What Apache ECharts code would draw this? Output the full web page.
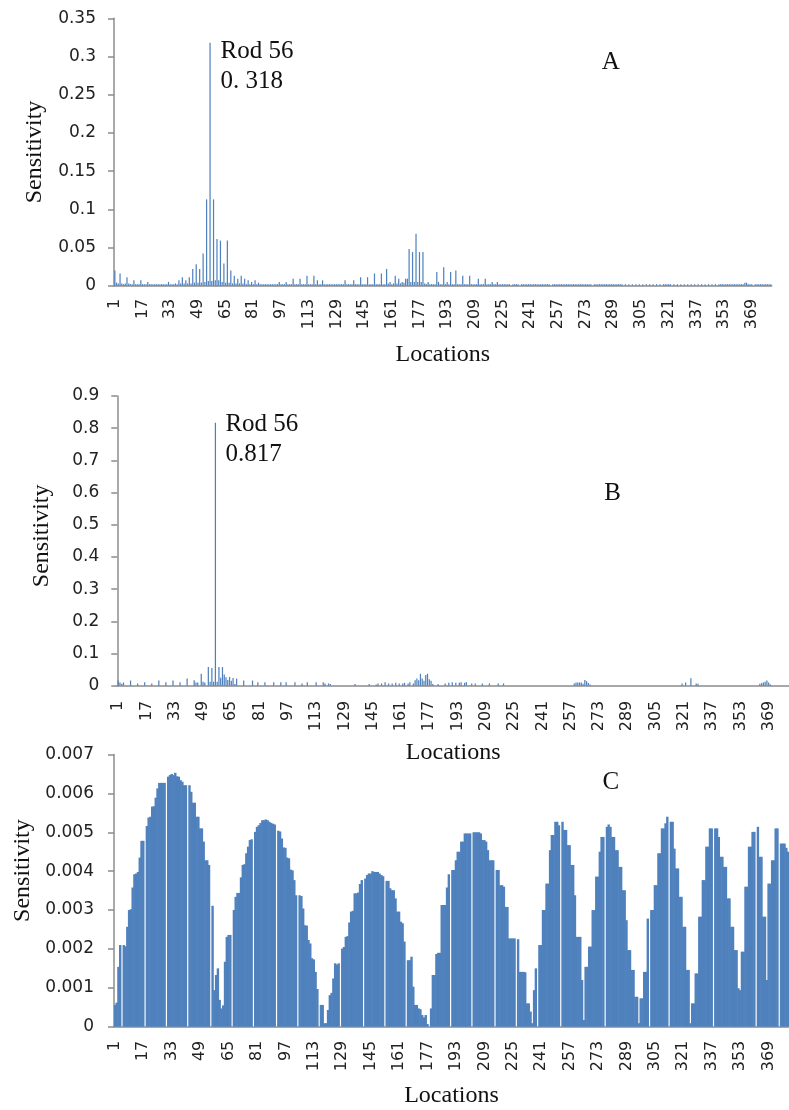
<!DOCTYPE html>
<html><head><meta charset="utf-8">
<script src="https://cdn.jsdelivr.net/npm/echarts@6/dist/echarts.min.js"></script>
<style>html,body{margin:0;padding:0;background:#fff;overflow:hidden}#chart{width:789px;height:1110px}</style>
</head><body><div id="chart"></div>
<script>
// ---- categories (fuel rod locations) ----
const locations = Array.from({length: 380}, (_, i) => String(i + 1));

// ---- Panel A sensitivities ----
const sensA = [
0.020,0.004,0.003,0.016,0.003,0.002,0.003,0.011,0.003,0.002,0.002,0.007,0.002,0.002,0.002,0.007,0.002,0.002,0.002,0.005,
0.002,0.002,0.002,0.002,0.002,0.002,0.002,0.002,0.002,0.002,0.002,0.005,0.002,0.002,0.002,0.003,0.002,0.007,0.003,0.011,
0.003,0.007,0.003,0.011,0.003,0.022,0.004,0.028,0.004,0.022,0.004,0.042,0.005,0.113,0.006,0.318,0.006,0.113,0.007,0.061,
0.007,0.059,0.005,0.029,0.004,0.059,0.004,0.020,0.003,0.013,0.003,0.009,0.003,0.013,0.003,0.009,0.002,0.007,0.002,0.005,
0.002,0.007,0.002,0.004,0.002,0.002,0.002,0.002,0.002,0.002,0.002,0.002,0.002,0.002,0.002,0.005,0.002,0.002,0.002,0.005,
0.002,0.002,0.002,0.009,0.002,0.002,0.002,0.009,0.002,0.002,0.002,0.013,0.002,0.002,0.002,0.013,0.002,0.007,0.002,0.002,
0.007,0.002,0.002,0.002,0.002,0.002,0.002,0.002,0.002,0.002,0.002,0.002,0.002,0.007,0.002,0.002,0.002,0.002,0.007,0.002,
0.002,0.002,0.011,0.002,0.002,0.002,0.011,0.002,0.002,0.002,0.016,0.002,0.002,0.002,0.016,0.002,0.002,0.022,0.003,0.005,
0.002,0.003,0.013,0.003,0.009,0.003,0.005,0.004,0.009,0.009,0.048,0.005,0.044,0.005,0.068,0.005,0.044,0.005,0.044,0.003,
0.002,0.005,0.002,0.002,0.002,0.002,0.018,0.005,0.002,0.002,0.024,0.002,0.005,0.002,0.018,0.002,0.002,0.020,0.002,0.002,
0.002,0.013,0.002,0.002,0.002,0.013,0.002,0.002,0.002,0.002,0.009,0.002,0.002,0.002,0.009,0.002,0.002,0.002,0.005,0.002,
0.002,0.005,0.002,0.002,0.002,0.002,0.002,0.002,0.002,0,0.002,0.002,0.002,0.002,0,0.002,0.002,0.002,0.002,0.002,
0.002,0.002,0.002,0.002,0.002,0.002,0.002,0.002,0.002,0.002,0.002,0.002,0,0.002,0.002,0.002,0.002,0.002,0.002,0.002,
0.002,0.002,0.002,0.002,0.002,0.002,0.002,0.002,0.002,0.002,0.002,0.002,0.002,0.002,0.002,0.002,0,0.002,0.002,0.002,
0.002,0.002,0.002,0.002,0.002,0.002,0.002,0.002,0.002,0.002,0.002,0.002,0.002,0.002,0,0.002,0,0.002,0,0.002,
0,0.002,0,0.002,0,0.002,0,0.002,0,0.002,0,0.002,0,0.002,0,0.002,0,0.002,0.002,0.002,
0.002,0.002,0,0.002,0,0.002,0,0.002,0,0.002,0,0.002,0,0.002,0,0.002,0,0.002,0,0.002,
0,0.002,0,0.002,0,0.002,0,0.002,0,0.002,0.002,0.002,0.002,0.002,0.002,0.002,0.002,0.002,0.002,0.002,
0.002,0.002,0.002,0.002,0.004,0.004,0.002,0.002,0.002,0,0.002,0.002,0.002,0.002,0.002,0.002,0.002,0.002,0.002,0.002
];

// ---- Panel B sensitivities ----
const sensB = [
0.016,0.010,0.006,0.010,0,0,0,0.016,0,0,0,0.007,0,0,0,0.011,0,0,0,0.007,
0,0,0,0.016,0,0,0,0.011,0,0,0,0.016,0,0,0,0.011,0,0,0,0.022,
0,0,0,0.017,0.010,0.010,0,0.037,0.012,0.010,0,0.058,0.012,0.055,0.012,0.817,0.012,0.058,0.025,0.058,
0.035,0.026,0.018,0.027,0.015,0.024,0.005,0.022,0,0,0,0.016,0,0,0,0,0.016,0,0,0.011,
0,0,0,0.011,0,0,0,0,0.011,0,0,0,0.011,0,0,0.011,0,0,0,0,
0.011,0,0,0,0.007,0,0,0.011,0,0,0,0,0.011,0,0,0,0.011,0.007,0,0.007,
0.005,0,0,0,0,0,0,0,0,0,0,0,0,0,0.005,0,0,0,0,0,
0,0,0.005,0,0,0,0.004,0.007,0,0.007,0,0.011,0,0.007,0,0.007,0,0.009,0,0.007,
0,0.007,0.009,0,0.007,0.011,0,0.007,0.017,0.022,0.017,0.037,0.022,0.015,0.033,0.037,0.020,0.015,0.005,0,
0,0.005,0,0,0,0.007,0,0.009,0,0.011,0,0.009,0,0.009,0.011,0,0.009,0.011,0,0,
0.007,0,0.007,0,0,0,0.007,0,0,0,0.007,0,0,0,0,0.007,0,0,0.007,0,
0,0,0,0,0,0,0,0,0,0,0,0,0,0,0,0,0,0,0,0,
0,0,0,0,0,0,0,0,0,0,0,0,0,0,0,0,0,0,0.007,0.010,
0.010,0.010,0.010,0.006,0.018,0.014,0.008,0.004,0,0,0,0,0,0,0,0,0,0,0,0,
0,0,0,0,0,0,0,0,0,0,0,0,0,0,0,0,0,0,0,0,
0,0,0,0,0,0,0,0,0,0,0,0,0,0,0,0,0,0,0,0.007,
0,0.010,0,0,0.023,0,0,0.007,0.006,0,0,0,0,0,0,0,0,0,0,0,
0,0,0,0,0,0,0,0,0,0,0,0,0,0,0,0,0,0,0,0,
0,0,0,0.006,0.008,0.010,0.012,0.016,0.010,0.004,0,0,0,0,0,0,0,0,0,0
];

// ---- Panel C sensitivities ----
const sensC = [
0.00056,0.00062,0.00154,0.00210,0,0.00210,0.00207,0.00257,0.00300,0.00302,0.00358,0.00392,0.00394,0.00398,0.00435,0.00478,0.00478,0,0.00516,0.00538,
0.00540,0.00566,0.00567,0.00589,0.00613,0.00627,0.00627,0.00627,0.00627,0,0.00643,0.00647,0.00650,0.00647,0.00653,0.00644,0.00643,0.00634,0.00630,0.00621,
0.00621,0,0.00621,0.00604,0.00576,0.00576,0.00540,0.00540,0.00510,0.00510,0.00476,0.00428,0.00428,0.00416,0,0.00311,0.00094,0.00133,0.00150,0.00069,
0.00047,0.00055,0.00167,0.00231,0.00236,0.00236,0,0.00300,0.00334,0.00344,0.00344,0.00384,0.00416,0.00418,0.00446,0.00463,0.00480,0.00482,0,0.00501,
0.00514,0.00518,0.00524,0.00531,0.00531,0.00533,0.00531,0.00527,0.00524,0.00522,0.00520,0,0.00504,0.00502,0.00484,0.00461,0.00460,0.00435,0.00433,0.00404,
0.00402,0.00377,0.00338,0,0.00338,0.00336,0.00304,0.00261,0.00260,0.00223,0.00214,0.00176,0.00173,0.00141,0.00097,0,0.00056,0.00056,0.00009,0.00009,
0.00043,0.00081,0.00087,0.00124,0.00163,0.00160,0.00163,0,0.00201,0.00205,0.00231,0.00233,0.00268,0.00296,0.00298,0.00343,0.00343,0.00345,0.00367,0.00377,
0,0.00381,0.00390,0.00394,0.00394,0.00400,0.00398,0.00398,0.00398,0.00394,0.00390,0.00387,0,0.00375,0.00375,0.00356,0.00351,0.00351,0.00330,0.00296,
0.00296,0.00270,0.00266,0.00219,0,0.00171,0.00171,0.00180,0.00103,0.00056,0.00056,0.00047,0.00045,0.00030,0.00024,0.00030,0.00007,0,0.00047,0.00133,
0.00133,0.00187,0.00190,0.00190,0.00313,0.00313,0.00313,0.00358,0.00392,0,0.00403,0.00403,0.00428,0.00450,0.00450,0.00476,0.00476,0.00497,0.00497,0.00497,
0.00497,0,0.00500,0.00500,0.00500,0.00500,0.00497,0.00480,0.00480,0.00476,0.00454,0.00428,0.00428,0.00428,0,0.00403,0.00403,0.00364,0.00364,0.00360,
0.00308,0.00308,0.00227,0.00227,0.00227,0.00227,0,0.00225,0.00141,0.00141,0.00141,0.00140,0.00060,0.00060,0.00039,0.00009,0.00094,0.00150,0,0.00210,
0.00210,0.00300,0.00300,0.00368,0.00368,0.00454,0.00493,0.00493,0.00527,0.00527,0.00518,0,0.00527,0.00506,0.00506,0.00467,0.00467,0.00416,0.00416,0.00338,
0.00231,0.00231,0.00231,0.00120,0.00017,0.00154,0.00154,0.00206,0.00206,0.00300,0.00300,0.00386,0.00386,0.00450,0.00488,0.00488,0,0.00514,0.00520,0.00514,
0.00488,0.00488,0.00454,0.00454,0.00411,0.00411,0.00351,0.00351,0.00274,0.00197,0.00197,0.00146,0.00146,0.00077,0.00077,0.00009,0.00073,0.00073,0.00141,0.00141,
0.00278,0,0.00300,0.00300,0.00364,0.00364,0.00446,0.00446,0.00510,0.00510,0.00523,0.00540,0,0.00527,0.00527,0.00458,0.00407,0.00407,0.00334,0.00334,
0.00257,0.00257,0.00146,0.00146,0.00009,0.00060,0.00060,0.00137,0.00137,0.00283,0.00283,0.00377,0.00377,0.00463,0.00463,0.00510,0.00510,0,0.00510,0.00510,
0.00488,0.00437,0.00437,0.00411,0.00411,0.00330,0.00330,0.00257,0.00257,0.00197,0.00197,0.00099,0.00094,0.00193,0.00193,0.00360,0.00360,0.00463,0.00463,0.00501,
0.00501,0,0.00514,0.00437,0.00437,0.00283,0.00283,0.00120,0.00368,0.00368,0.00428,0.00428,0.00510,0.00510,0,0.00471,0.00471,0.00471,0.00460,0.00450
];

// ---- tick labels ----
const yTicksA = ['0','0.05','0.1','0.15','0.2','0.25','0.3','0.35'];
const yTicksB = ['0','0.1','0.2','0.3','0.4','0.5','0.6','0.7','0.8','0.9'];
const yTicksC = ['0','0.001','0.002','0.003','0.004','0.005','0.006','0.007'];

// ---- annotations ----
const annoA = ['Rod 56', '0. 318'];
const annoB = ['Rod 56', '0.817'];
const panelLetters = ['A', 'B', 'C'];

const BAR = '#4F81BD', AXIS = '#8C8C8C', TXT = '#222';
const SERIF = '"Liberation Serif","Times New Roman",serif';
const SANS = '"DejaVu Sans",Verdana,sans-serif';

function xAx(gi, margin, gap) {
  return {
    type: 'category', gridIndex: gi, data: locations, boundaryGap: true,
    axisLine: {show: true, lineStyle: {color: AXIS, width: 1.5}},
    axisTick: {show: false},
    axisLabel: {interval: 15, rotate: 90, margin: margin, fontFamily: SANS, fontSize: 16, color: TXT},
    name: 'Locations', nameLocation: 'middle', nameGap: gap,
    nameTextStyle: {fontFamily: SERIF, fontSize: 24, color: '#111'}
  };
}
function yAx(gi, ticks, margin, gap, pad) {
  const vals = ticks.map(Number);
  return {
    type: 'value', gridIndex: gi, min: vals[0], max: vals[vals.length - 1], interval: vals[1] - vals[0],
    splitLine: {show: false},
    axisLine: {show: true, lineStyle: {color: AXIS, width: 1.5}},
    axisTick: {show: true, length: 6, lineStyle: {color: AXIS, width: 1.5}},
    axisLabel: {margin: margin, fontFamily: SANS, fontSize: 17, color: TXT,
      formatter: (v, i) => ticks[i] !== undefined ? ticks[i] : ''},
    name: 'Sensitivity', nameLocation: 'middle', nameGap: gap,
    nameTextStyle: {fontFamily: SERIF, fontSize: 24, color: '#111', padding: [0, 0, 0, pad]}
  };
}
function peakMark(data, anno, dist, dy) {
  const idx = data.indexOf(Math.max.apply(null, data));
  return {
    symbol: 'circle', symbolSize: 1, itemStyle: {color: 'rgba(0,0,0,0)'},
    data: [{coord: [idx, data[idx]]}],
    label: {show: true, position: 'right', distance: dist, offset: [0, dy],
      align: 'left', verticalAlign: 'top', lineHeight: 30,
      fontFamily: SERIF, fontSize: 25, color: '#111',
      formatter: anno.join('\n')}
  };
}

const chart = echarts.init(document.getElementById('chart'), null, {renderer: 'canvas'});
chart.setOption({
  animation: false,
  backgroundColor: '#fff',
  grid: [
    {left: 114, top: 18.3, width: 657.7, height: 267.4},
    {left: 117.3, top: 396, width: 678, height: 289.7},
    {left: 114, top: 754.5, width: 680, height: 272.2}
  ],
  xAxis: [xAx(0, 13, 57), xAx(1, 15, 55), xAx(2, 14, 57)],
  yAxis: [yAx(0, yTicksA, 18, 67, 0), yAx(1, yTicksB, 18, 64, 10), yAx(2, yTicksC, 20, 77, 40)],
  series: [
    {type: 'bar', xAxisIndex: 0, yAxisIndex: 0, data: sensA, barCategoryGap: '30%',
     itemStyle: {color: BAR}, markPoint: peakMark(sensA, annoA, 10, -6.7)},
    {type: 'bar', xAxisIndex: 1, yAxisIndex: 1, data: sensB, barCategoryGap: '30%',
     itemStyle: {color: BAR}, markPoint: peakMark(sensB, annoB, 9.5, -13.7)},
    {type: 'bar', xAxisIndex: 2, yAxisIndex: 2, data: sensC, barWidth: 2.4,
     itemStyle: {color: BAR}}
  ],
  graphic: [
    {type: 'text', x: 610.7, y: 62.5, style: {text: panelLetters[0], fontFamily: SERIF, fontSize: 25, fill: '#111', align: 'center', verticalAlign: 'middle'}},
    {type: 'text', x: 612.5, y: 493.3, style: {text: panelLetters[1], fontFamily: SERIF, fontSize: 25, fill: '#111', align: 'center', verticalAlign: 'middle'}},
    {type: 'text', x: 610.8, y: 782.5, style: {text: panelLetters[2], fontFamily: SERIF, fontSize: 25, fill: '#111', align: 'center', verticalAlign: 'middle'}}
  ]
});
</script></body></html>
